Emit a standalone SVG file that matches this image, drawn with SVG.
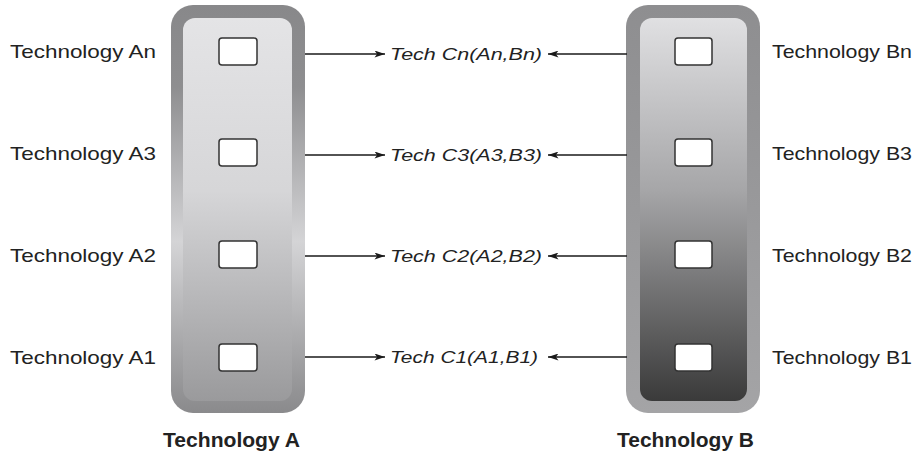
<svg xmlns="http://www.w3.org/2000/svg" width="918" height="455" viewBox="0 0 918 455">
<defs>
<linearGradient id="lOuter" x1="0" y1="0" x2="0" y2="1">
<stop offset="0" stop-color="#88888a"/><stop offset="0.2" stop-color="#8e8e90"/><stop offset="0.58" stop-color="#d4d4d6"/><stop offset="1" stop-color="#8a8a8c"/>
</linearGradient>
<linearGradient id="lInner" x1="0" y1="0" x2="0" y2="1">
<stop offset="0" stop-color="#e4e4e6"/><stop offset="0.45" stop-color="#d6d6d8"/><stop offset="1" stop-color="#9a9a9c"/>
</linearGradient>
<linearGradient id="rOuter" x1="0" y1="0" x2="0" y2="1">
<stop offset="0" stop-color="#8e8e90"/><stop offset="1" stop-color="#a4a4a6"/>
</linearGradient>
<linearGradient id="rInner" x1="0" y1="0" x2="0" y2="1">
<stop offset="0" stop-color="#e0e0e2"/><stop offset="0.45" stop-color="#a6a6a8"/><stop offset="1" stop-color="#3a3a3a"/>
</linearGradient>
<marker id="ah" viewBox="0 0 12 8" refX="12" refY="4" markerWidth="11" markerHeight="7" markerUnits="userSpaceOnUse" orient="auto">
<path d="M0,0 L12,4 L0,8 L3,4 Z" fill="#1a1a1a"/>
</marker>
</defs>
<style>
.box{fill:#fff;stroke:#333;stroke-width:1.5}
.lbl{font-family:"Liberation Sans",Arial,sans-serif;font-size:18.5px;fill:#222}
.tech{font-family:"Liberation Sans",Arial,sans-serif;font-size:16.5px;font-style:italic;fill:#222}
.ttl{font-family:"Liberation Sans",Arial,sans-serif;font-size:19.5px;font-weight:bold;fill:#222}
.arr{stroke:#1a1a1a;stroke-width:1.3;fill:none;marker-end:url(#ah)}
</style>

<g id="columnA">
<rect x="171" y="5" width="134" height="408" rx="22" fill="url(#lOuter)"/>
<rect x="183" y="18" width="109" height="383" rx="12" fill="url(#lInner)"/>
<text class="ttl" x="163" y="447" textLength="137" lengthAdjust="spacingAndGlyphs">Technology A</text>
</g>
<g id="columnB">
<rect x="626" y="5" width="134" height="408" rx="22" fill="url(#rOuter)"/>
<rect x="640" y="18" width="107" height="383" rx="12" fill="url(#rInner)"/>
<text class="ttl" x="617" y="447" textLength="137" lengthAdjust="spacingAndGlyphs">Technology B</text>
</g>

<g id="A_n"><rect class="box" x="219" y="38" width="38" height="27" rx="3"/><text class="lbl" x="10" y="58" textLength="146" lengthAdjust="spacingAndGlyphs">Technology An</text></g>
<g id="A_3"><rect class="box" x="219" y="139" width="38" height="27" rx="3"/><text class="lbl" x="10" y="160" textLength="146" lengthAdjust="spacingAndGlyphs">Technology A3</text></g>
<g id="A_2"><rect class="box" x="219" y="241" width="38" height="27" rx="3"/><text class="lbl" x="10" y="262" textLength="146" lengthAdjust="spacingAndGlyphs">Technology A2</text></g>
<g id="A_1"><rect class="box" x="219" y="344" width="38" height="27" rx="3"/><text class="lbl" x="10" y="364" textLength="146" lengthAdjust="spacingAndGlyphs">Technology A1</text></g>

<g id="B_n"><rect class="box" x="675" y="38" width="37" height="27" rx="3"/><text class="lbl" x="912" y="58" text-anchor="end" textLength="140" lengthAdjust="spacingAndGlyphs">Technology Bn</text></g>
<g id="B_3"><rect class="box" x="675" y="139" width="37" height="27" rx="3"/><text class="lbl" x="912" y="160" text-anchor="end" textLength="140" lengthAdjust="spacingAndGlyphs">Technology B3</text></g>
<g id="B_2"><rect class="box" x="675" y="241" width="37" height="27" rx="3"/><text class="lbl" x="912" y="262" text-anchor="end" textLength="140" lengthAdjust="spacingAndGlyphs">Technology B2</text></g>
<g id="B_1"><rect class="box" x="675" y="344" width="37" height="27" rx="3"/><text class="lbl" x="912" y="364" text-anchor="end" textLength="140" lengthAdjust="spacingAndGlyphs">Technology B1</text></g>

<g id="C_n"><text class="tech" x="390" y="60" textLength="152" lengthAdjust="spacingAndGlyphs">Tech Cn(An,Bn)</text></g>
<g id="C_3"><text class="tech" x="390" y="161" textLength="152" lengthAdjust="spacingAndGlyphs">Tech C3(A3,B3)</text></g>
<g id="C_2"><text class="tech" x="390" y="262" textLength="152" lengthAdjust="spacingAndGlyphs">Tech C2(A2,B2)</text></g>
<g id="C_1"><text class="tech" x="390" y="363" textLength="148" lengthAdjust="spacingAndGlyphs">Tech C1(A1,B1)</text></g>

<g id="connectors">
<line class="arr" x1="305" y1="54" x2="385" y2="54"/>
<line class="arr" x1="305" y1="155" x2="385" y2="155"/>
<line class="arr" x1="305" y1="256" x2="385" y2="256"/>
<line class="arr" x1="305" y1="357" x2="385" y2="357"/>
<line class="arr" x1="627" y1="54" x2="548" y2="54"/>
<line class="arr" x1="627" y1="155" x2="548" y2="155"/>
<line class="arr" x1="627" y1="256" x2="548" y2="256"/>
<line class="arr" x1="627" y1="357" x2="548" y2="357"/>
</g>
</svg>
